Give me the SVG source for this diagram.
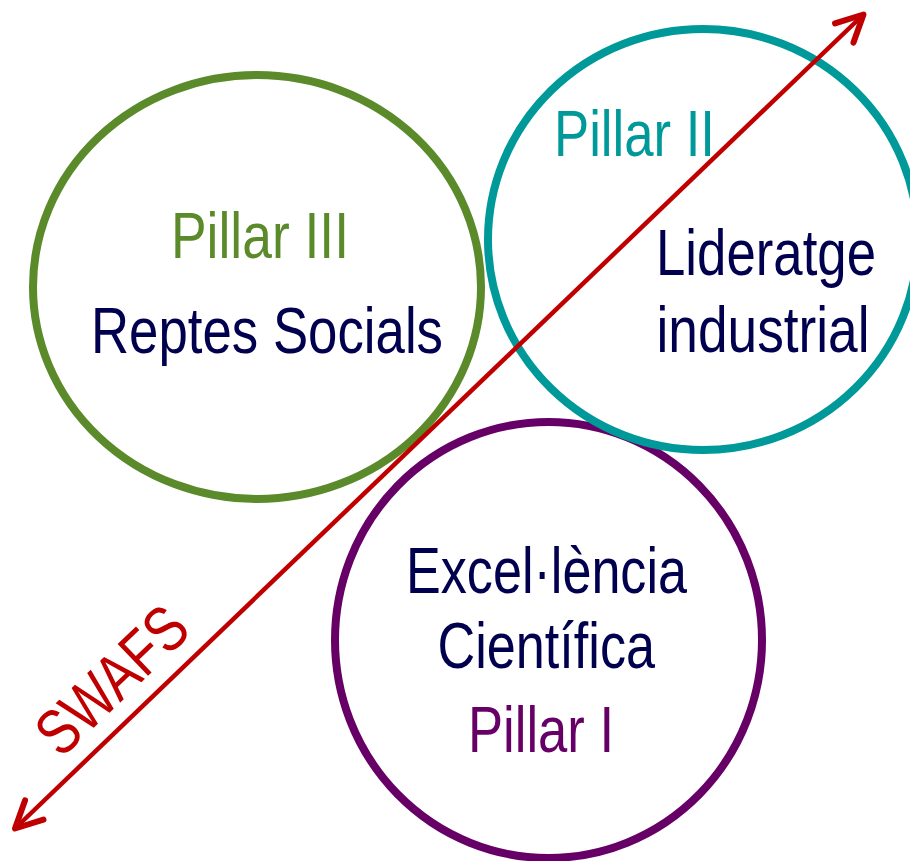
<svg xmlns="http://www.w3.org/2000/svg" width="910" height="861" viewBox="0 0 910 861">
<style>
.ring{fill:none;stroke-width:8}
.t{font-family:"Liberation Sans",Arial,sans-serif;font-size:64px}
.navy{fill:#00004F}
</style>
<defs>
<marker id="ah" markerUnits="userSpaceOnUse" markerWidth="40" markerHeight="40" viewBox="-25 -15 30 30" refX="0" refY="0" orient="auto-start-reverse">
<path d="M-20,-10 L0,0 L-20,10" fill="none" stroke="#C00000" stroke-width="4.5" stroke-linecap="round" stroke-linejoin="round"/>
</marker>
</defs>
<rect width="910" height="861" fill="#fff"/>
<g id="pillar3">
<ellipse class="ring" cx="257" cy="287" rx="224" ry="212" stroke="#5A8A2A"/>
<text class="t" x="171" y="258" textLength="178" lengthAdjust="spacingAndGlyphs" fill="#5A8A2A">Pillar III</text>
<text class="t navy" x="91" y="353" textLength="352" lengthAdjust="spacingAndGlyphs">Reptes Socials</text>
</g>
<g id="pillar1">
<ellipse class="ring" cx="548.5" cy="640" rx="213.5" ry="218" stroke="#660066"/>
<text class="t navy" x="406" y="593" textLength="281" lengthAdjust="spacingAndGlyphs">Excel·lència</text>
<text class="t navy" x="437.5" y="668" textLength="217.5" lengthAdjust="spacingAndGlyphs">Científica</text>
<text class="t" x="468" y="752" textLength="146" lengthAdjust="spacingAndGlyphs" fill="#660066">Pillar I</text>
</g>
<g id="pillar2">
<ellipse class="ring" cx="703" cy="239.5" rx="215" ry="210.5" stroke="#009999"/>
<text class="t" x="554" y="156" textLength="161" lengthAdjust="spacingAndGlyphs" fill="#009999">Pillar II</text>
<text class="t navy" x="656" y="275" textLength="220" lengthAdjust="spacingAndGlyphs">Lideratge</text>
<text class="t navy" x="656.5" y="352" textLength="213" lengthAdjust="spacingAndGlyphs">industrial</text>
</g>
<g id="connectors">
<line x1="15" y1="828.5" x2="863.5" y2="14.5" stroke="#C00000" stroke-width="4.5" marker-start="url(#ah)" marker-end="url(#ah)"/>
</g>
<g id="swafs">
<text class="t" x="127" y="696" text-anchor="middle" textLength="183" lengthAdjust="spacingAndGlyphs" fill="#C00000" transform="rotate(-43.8 127 696)">SWAFS</text>
</g>
</svg>
